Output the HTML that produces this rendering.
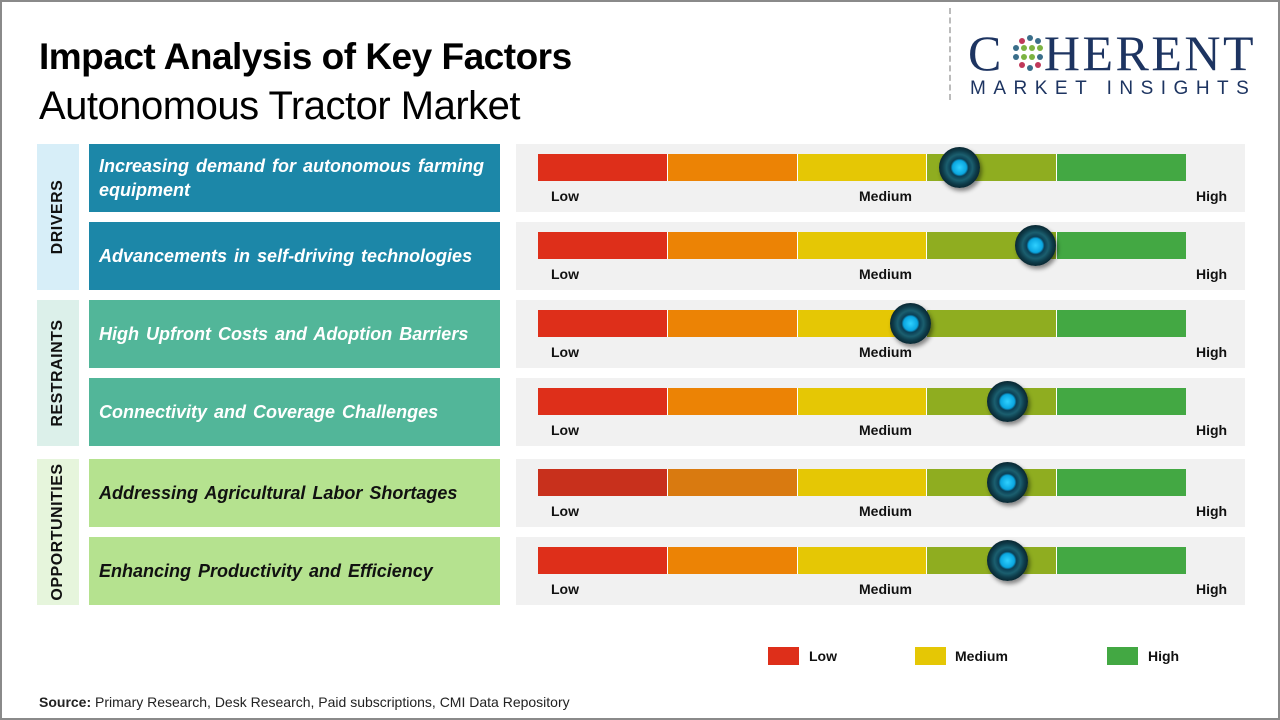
<!DOCTYPE html>
<html><head><meta charset="utf-8"><style>
*{margin:0;padding:0;box-sizing:border-box}
body{width:1280px;height:720px;background:#fff;position:relative;overflow:hidden;font-family:"Liberation Sans",sans-serif}
.frame{position:absolute;left:0;top:0;width:1280px;height:720px;border:2px solid #8a8a8a}
.a{position:absolute}
.t1{left:39px;top:36px;font-size:37px;font-weight:bold;color:#000;letter-spacing:-0.5px}
.t2{left:39px;top:84px;font-size:40px;color:#000;letter-spacing:-0.5px}
.side{position:absolute;left:37px;width:42px}
.side span{position:absolute;left:50%;top:50%;transform:translate(-50%,-50%) rotate(-90deg);font-weight:bold;font-size:16px;white-space:nowrap;color:#111;letter-spacing:0.5px}
.lab{position:absolute;left:89px;width:411px;height:68px;display:flex;align-items:center;padding:0 10px;font-style:italic;font-weight:bold;font-size:18px;color:#fff;word-spacing:2px;line-height:24px}
.pan{position:absolute;left:516px;width:729px;height:68px;background:#f1f1f1}
.bar{position:absolute;left:22px;top:10px;height:27px;width:648px;display:flex}
.bar div{flex:1;border-right:1px solid #fff}
.bar div:last-child{border-right:none}
.lo,.me,.hi{position:absolute;top:44px;font-size:14px;font-weight:bold;color:#111}
.lo{left:35px}.me{left:343px}.hi{left:680px}
.knob{position:absolute;top:3px;width:41px;height:41px;border-radius:50%;background:radial-gradient(circle at 50% 50%,#2fd0ff 0,#0aa6e0 7px,#0b3f55 9px,#1b5f6f 13px,#0e3c4a 17px,#0a2a35 20px);box-shadow:2px 3px 4px rgba(0,0,0,.45)}
.leg{position:absolute;top:647px;width:31px;height:18px}
.legt{position:absolute;top:648px;font-size:14px;font-weight:bold;color:#111}
</style></head><body>
<div class="frame"></div>
<div class="a t1">Impact Analysis of Key Factors</div>
<div class="a t2">Autonomous Tractor Market</div>
<div class="a" style="left:949px;top:8px;height:92px;border-left:2px dashed #bbb"></div>
<div class="a" style="left:968px;top:28px;font-family:'Liberation Serif',serif;font-size:50px;color:#1d3461;letter-spacing:2.5px;line-height:50px">C<span style="display:inline-block;width:40px"></span>HERENT</div>
<svg class="a" style="left:1010px;top:33px" width="40" height="40"><g fill="#3a6e8a"><circle cx="20" cy="5" r="3"/><circle cx="12" cy="8" r="3" fill="#c0395a"/><circle cx="28" cy="8" r="3"/><circle cx="6" cy="15" r="3"/><circle cx="14" cy="15" r="3" fill="#7cb342"/><circle cx="22" cy="15" r="3" fill="#7cb342"/><circle cx="30" cy="15" r="3" fill="#7cb342"/><circle cx="6" cy="24" r="3"/><circle cx="14" cy="24" r="3" fill="#7cb342"/><circle cx="22" cy="24" r="3" fill="#7cb342"/><circle cx="30" cy="24" r="3"/><circle cx="12" cy="32" r="3" fill="#c0395a"/><circle cx="20" cy="35" r="3"/><circle cx="28" cy="32" r="3" fill="#c0395a"/></g></svg>
<div class="a" style="left:970px;top:78px;font-size:19px;color:#1d3461;letter-spacing:7.5px">MARKET INSIGHTS</div>

<div class="side" style="top:144px;height:146px;background:#d7eef8"><span>DRIVERS</span></div>
<div class="side" style="top:300px;height:146px;background:#dcf0ea"><span>RESTRAINTS</span></div>
<div class="side" style="top:459px;height:146px;background:#e6f5dc"><span>OPPORTUNITIES</span></div>

<div class="lab" style="top:144px;background:#1c87a8">Increasing demand for autonomous farming equipment</div>
<div class="lab" style="top:222px;background:#1c87a8">Advancements in self-driving technologies</div>
<div class="lab" style="top:300px;background:#52b699">High Upfront Costs and Adoption Barriers</div>
<div class="lab" style="top:378px;background:#52b699">Connectivity and Coverage Challenges</div>
<div class="lab" style="top:459px;background:#b5e28f;color:#111">Addressing Agricultural Labor Shortages</div>
<div class="lab" style="top:537px;background:#b5e28f;color:#111">Enhancing Productivity and Efficiency</div>

<div class="pan" style="top:144px"><div class="bar"><div style="background:#de2f1a"></div><div style="background:#ec8305"></div><div style="background:#e5c705"></div><div style="background:#8fad20"></div><div style="background:#43a843"></div></div><span class="lo">Low</span><span class="me">Medium</span><span class="hi">High</span><div class="knob" style="left:423px"></div></div>
<div class="pan" style="top:222px"><div class="bar"><div style="background:#de2f1a"></div><div style="background:#ec8305"></div><div style="background:#e5c705"></div><div style="background:#8fad20"></div><div style="background:#43a843"></div></div><span class="lo">Low</span><span class="me">Medium</span><span class="hi">High</span><div class="knob" style="left:499px"></div></div>
<div class="pan" style="top:300px"><div class="bar"><div style="background:#de2f1a"></div><div style="background:#ec8305"></div><div style="background:#e5c705"></div><div style="background:#8fad20"></div><div style="background:#43a843"></div></div><span class="lo">Low</span><span class="me">Medium</span><span class="hi">High</span><div class="knob" style="left:374px"></div></div>
<div class="pan" style="top:378px"><div class="bar"><div style="background:#de2f1a"></div><div style="background:#ec8305"></div><div style="background:#e5c705"></div><div style="background:#8fad20"></div><div style="background:#43a843"></div></div><span class="lo">Low</span><span class="me">Medium</span><span class="hi">High</span><div class="knob" style="left:471px"></div></div>
<div class="pan" style="top:459px"><div class="bar"><div style="background:#c8301c"></div><div style="background:#d97a10"></div><div style="background:#e5c705"></div><div style="background:#8fad20"></div><div style="background:#43a843"></div></div><span class="lo">Low</span><span class="me">Medium</span><span class="hi">High</span><div class="knob" style="left:471px"></div></div>
<div class="pan" style="top:537px"><div class="bar"><div style="background:#de2f1a"></div><div style="background:#ec8305"></div><div style="background:#e5c705"></div><div style="background:#8fad20"></div><div style="background:#43a843"></div></div><span class="lo">Low</span><span class="me">Medium</span><span class="hi">High</span><div class="knob" style="left:471px"></div></div>

<div class="leg" style="left:768px;background:#de2f1a"></div><div class="legt" style="left:809px">Low</div>
<div class="leg" style="left:915px;background:#e5c705"></div><div class="legt" style="left:955px">Medium</div>
<div class="leg" style="left:1107px;background:#43a843"></div><div class="legt" style="left:1148px">High</div>

<div class="a" style="left:39px;top:694px;font-size:14px;color:#222"><b>Source:</b> Primary Research, Desk Research, Paid subscriptions, CMI Data Repository</div>
</body></html>
